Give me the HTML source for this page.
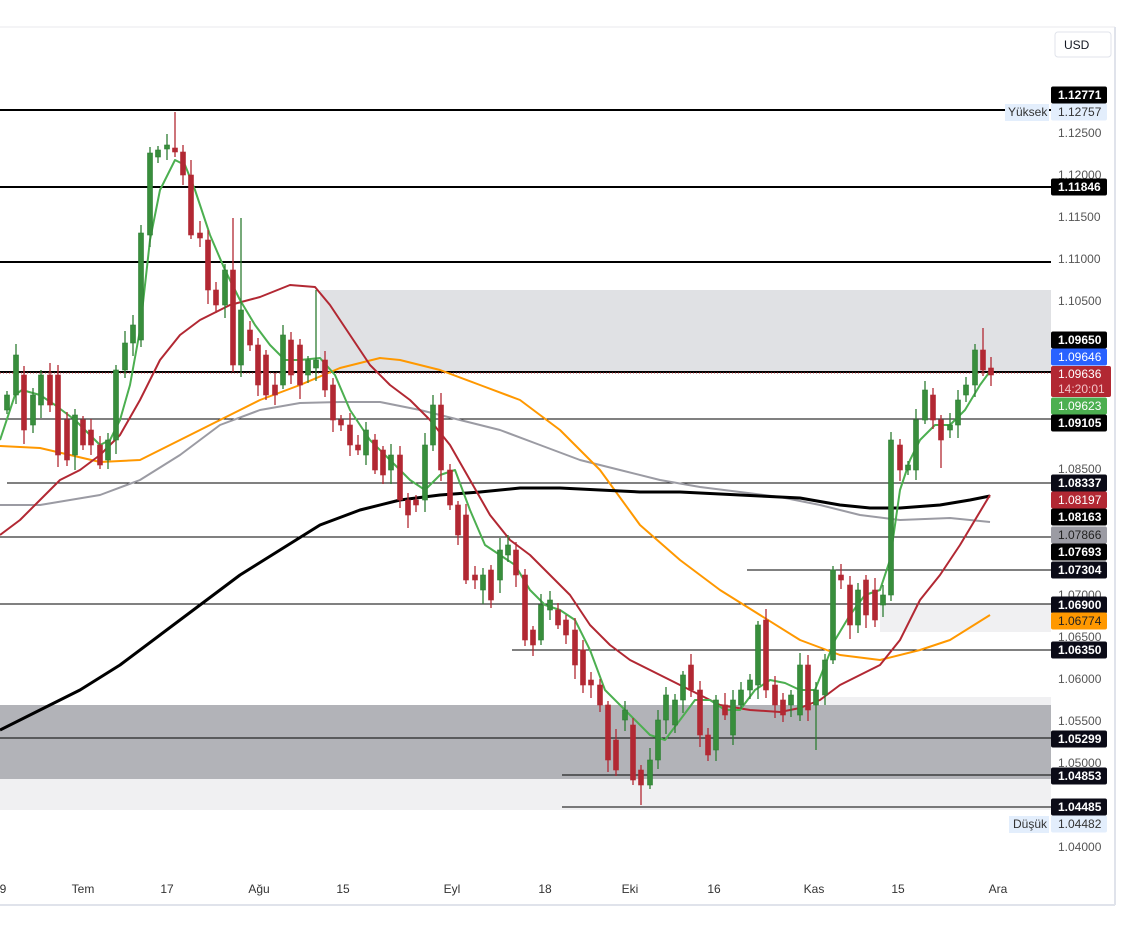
<!DOCTYPE html>
<html><head><meta charset="utf-8"><style>
body{margin:0;background:#fff;width:1125px;height:939px;overflow:hidden;font-family:"Liberation Sans",sans-serif}
svg{display:block}
</style></head><body>
<svg id="s" width="1125" height="939" xmlns="http://www.w3.org/2000/svg" font-family="Liberation Sans, sans-serif">
<rect x="0" y="0" width="1125" height="939" fill="#fff"/>
<line x1="0" y1="27" x2="1115" y2="27" stroke="#e8e9ec"/>
<line x1="1115" y1="27" x2="1115" y2="905" stroke="#e0e3eb" stroke-width="2"/>
<line x1="0" y1="905" x2="1115" y2="905" stroke="#e0e3eb" stroke-width="2"/>
<!-- zones -->
<rect x="320" y="290" width="731" height="82" fill="#e0e1e4"/>
<rect x="0" y="779" width="1051" height="31" fill="#f0f0f2"/>
<rect x="820" y="697" width="231" height="8" fill="#f0f0f2"/>
<rect x="0" y="705" width="1051" height="74" fill="#b2b3b8"/>
<rect x="880" y="604" width="171" height="28" fill="#f0f0f2"/>
<g id="hl" stroke="#000">
<line x1="0" y1="110" x2="1051" y2="110" stroke-width="2"/>
<line x1="0" y1="187" x2="1051" y2="187" stroke-width="2"/>
<line x1="0" y1="262" x2="1051" y2="262" stroke-width="2"/>
<line x1="0" y1="372" x2="1051" y2="372" stroke-width="2"/>
<line x1="0" y1="419" x2="1051" y2="419"/>
<line x1="7" y1="483" x2="1051" y2="483"/>
<line x1="0" y1="537" x2="1051" y2="537"/>
<line x1="747" y1="570" x2="1051" y2="570"/>
<line x1="0" y1="604" x2="1051" y2="604"/>
<line x1="512" y1="650" x2="1051" y2="650"/>
<line x1="0" y1="738" x2="1051" y2="738"/>
<line x1="562" y1="775" x2="1051" y2="775"/>
<line x1="562" y1="807" x2="1051" y2="807"/>
</g>
<line x1="0" y1="373" x2="1051" y2="373" stroke="#c0303a" stroke-dasharray="1 2"/>
<g id="ma" fill="none" stroke-linejoin="round"></g>
<g id="cd"></g>
<g id="ax" font-size="12"></g>
<rect x="1055" y="32" width="56" height="25" rx="3" fill="#fff" stroke="#e0e3eb"/>
<text x="1064" y="49" font-size="12" fill="#131722">USD</text>
</svg>
<script>
var NS="http://www.w3.org/2000/svg";
function el(p,t,a,txt){var e=document.createElementNS(NS,t);for(var k in a)e.setAttribute(k,a[k]);if(txt!=null)e.textContent=txt;p.appendChild(e);return e;}
var ma=document.getElementById('ma'),cd=document.getElementById('cd'),ax=document.getElementById('ax');
function line(pts,col,w){el(ma,'polyline',{points:pts.map(p=>p.join(',')).join(' '),stroke:col,'stroke-width':w});}
line([[0,505],[40,505],[100,495],[140,480],[180,455],[220,425],[260,410],[300,403],[340,402],[380,402],[420,410],[460,420],[500,430],[540,445],[580,460],[620,470],[660,480],[700,487],[740,492],[780,497],[820,505],[860,515],[900,520],[950,518],[990,522]],'#9b9ba3',2);
line([[0,446],[40,448],[100,462],[140,460],[180,440],[220,420],[260,400],[300,385],[340,368],[380,358],[400,360],[440,370],[480,385],[520,400],[560,430],[600,470],[640,525],[680,560],[720,590],[760,615],[800,640],[840,655],[880,660],[920,650],[950,640],[990,615]],'#ff9800',2);
line([[0,730],[40,710],[80,690],[120,665],[160,635],[200,605],[240,575],[280,550],[320,525],[360,510],[400,500],[440,495],[480,492],[520,488],[560,488],[600,490],[640,492],[680,492],[720,494],[760,496],[800,498],[840,505],[870,508],[900,508],[940,505],[970,500],[990,496]],'#000',3);
line([[0,535],[20,520],[40,500],[60,480],[80,470],[100,455],[120,435],[140,400],[160,360],[180,335],[200,320],[230,305],[260,297],[290,285],[315,287],[330,305],[350,335],[370,365],[390,385],[410,400],[430,420],[450,445],[470,480],[490,515],[510,540],[530,555],[550,575],[570,595],[590,625],[610,645],[630,660],[660,675],[690,690],[720,705],[750,710],[780,712],[800,708],[820,700],[840,685],[860,675],[880,665],[900,640],[920,600],[940,575],[960,545],[975,520],[990,495]],'#b22833',2);
line([[0,440],[15,395],[22,390],[40,395],[55,405],[75,420],[100,445],[110,440],[120,420],[130,385],[140,330],[150,240],[160,190],[175,160],[185,165],[195,190],[210,235],[225,270],[240,300],[255,325],[270,345],[285,360],[300,360],[320,358],[335,375],[350,410],[370,440],[390,460],[410,480],[425,490],[440,475],[455,470],[470,510],[485,545],[500,555],[515,565],[530,590],[545,605],[560,610],[575,620],[590,650],[605,690],[620,705],[635,720],[650,735],[665,740],[680,720],[695,700],[710,700],[725,710],[740,710],[755,690],[770,680],[785,683],[800,690],[815,690],[825,665],[835,640],[850,615],[865,595],[880,590],[890,560],[900,490],[910,460],[920,440],[935,425],[950,425],[965,410],[980,385],[991,370]],'#4caf50',2);
// candles: x, y1, y2, dir(g/r)
var C=[[7,395,410,'g'],[16,355,395,'g'],[24,375,430,'r'],[33,395,425,'g'],[41,375,405,'g'],[50,375,405,'r'],[58,375,455,'r'],[67,420,460,'r'],[75,415,455,'g'],[83,420,445,'r'],[91,430,445,'r'],[100,445,465,'r'],[108,440,460,'g'],[116,370,440,'g'],[125,343,370,'g'],[133,325,343,'g'],[141,233,340,'g'],[150,153,235,'g'],[158,150,157,'g'],[167,145,149,'g'],[175,148,152,'r'],[183,152,175,'r'],[191,175,235,'r'],[200,233,238,'r'],[208,240,290,'r'],[216,290,305,'r'],[225,270,305,'g'],[233,270,365,'r'],[241,310,365,'g'],[250,330,345,'r'],[258,345,385,'r'],[266,355,395,'r'],[275,385,395,'r'],[283,335,385,'g'],[291,340,375,'r'],[300,345,385,'r'],[308,360,375,'g'],[316,360,368,'g'],[325,360,390,'r'],[333,385,420,'r'],[341,420,425,'r'],[350,425,445,'r'],[358,445,450,'r'],[366,430,455,'g'],[375,440,470,'r'],[383,450,475,'r'],[391,455,470,'g'],[400,455,500,'r'],[408,500,515,'r'],[416,500,505,'r'],[425,445,500,'g'],[433,405,445,'g'],[441,405,470,'r'],[450,470,505,'r'],[458,505,535,'r'],[466,515,580,'r'],[475,575,580,'r'],[483,575,590,'g'],[491,570,600,'r'],[500,550,580,'g'],[508,545,555,'g'],[516,550,575,'r'],[525,575,640,'r'],[533,630,645,'r'],[541,605,640,'g'],[550,600,610,'g'],[558,610,625,'r'],[566,620,635,'r'],[575,630,665,'r'],[583,650,685,'r'],[591,680,685,'r'],[600,685,705,'r'],[608,705,760,'r'],[616,740,770,'r'],[625,710,720,'g'],[633,725,780,'r'],[641,770,785,'r'],[650,760,785,'g'],[658,720,760,'g'],[666,695,720,'g'],[675,700,725,'g'],[683,675,700,'g'],[691,665,690,'r'],[700,690,735,'r'],[708,735,755,'r'],[716,700,750,'g'],[725,705,715,'r'],[733,700,735,'g'],[741,690,705,'g'],[750,680,690,'g'],[758,625,685,'g'],[766,620,690,'r'],[775,685,705,'r'],[783,700,715,'r'],[791,695,705,'g'],[800,665,715,'g'],[808,665,710,'r'],[816,690,705,'g'],[825,660,695,'g'],[833,570,660,'g'],[841,575,580,'r'],[850,585,625,'r'],[858,590,625,'g'],[866,580,615,'r'],[875,590,620,'r'],[883,595,605,'g'],[891,440,595,'g'],[900,445,470,'r'],[908,465,470,'g'],[916,420,470,'g'],[925,390,420,'g'],[933,395,420,'r'],[941,420,440,'r'],[950,425,430,'g'],[958,400,425,'g'],[966,385,395,'g'],[975,350,385,'g'],[983,350,370,'r'],[991,368,375,'r']];
var W={177:112,316:290,441:393,641:805,816:750,983:328,941:468,237:218,75:470,191:160};
C.forEach(function(c,i){var x=c[0],a=c[1],b=c[2];var col=c[3]=='g'?'#2e7d32':'#b22833';var fill=c[3]=='g'?'#388e3c':'#b22833';
var hi=a-4-((i*7)%9),lo=b+4+((i*5)%11);
for(var k in W){if(Math.abs(k-x)<=4){var v=W[k];if(v<a)hi=v;else lo=v;}}
el(cd,'line',{x1:x,y1:hi,x2:x,y2:lo,stroke:col,'stroke-width':1.3});
el(cd,'rect',{x:x-2.5,y:a,width:5,height:Math.max(1.5,b-a),fill:fill,stroke:col,'stroke-width':0.6});});
// axis labels
[[133,'1.12500'],[175,'1.12000'],[217,'1.11500'],[259,'1.11000'],[301,'1.10500'],[469,'1.08500'],[595,'1.07000'],[637,'1.06500'],[679,'1.06000'],[721,'1.05500'],[763,'1.05000'],[847,'1.04000']].forEach(function(l){el(ax,'text',{x:1058,y:l[0]+4,fill:'#555'},l[1]);});
function box(y,txt,bg,fg,h){h=h||17;el(ax,'rect',{x:1051,y:y-h/2,width:56,height:h,rx:2,fill:bg});el(ax,'text',{x:1058,y:y+4,fill:fg,'font-weight':bg=='#000'||bg=='#0b0b17'?'bold':'normal'},txt);}
box(95,'1.12771','#000','#fff');
box(112,'1.12757','#e3eefc','#333');
el(ax,'rect',{x:1005,y:104,width:44,height:17,fill:'#e3eefc'});el(ax,'text',{x:1008,y:116,fill:'#333'},'Yüksek');
box(187,'1.11846','#000','#fff');
box(340,'1.09650','#000','#fff');
box(357,'1.09646','#2962ff','#fff');
el(ax,'rect',{x:1051,y:366,width:60,height:31,rx:2,fill:'#b22833'});
el(ax,'text',{x:1058,y:378,fill:'#fff'},'1.09636');el(ax,'text',{x:1058,y:393,fill:'#f2c4c8'},'14:20:01');
box(406,'1.09623','#4caf50','#fff');
box(423,'1.09105','#000','#fff');
box(483,'1.08337','#0b0b17','#fff');
box(500,'1.08197','#b22833','#fff');
box(517,'1.08163','#000','#fff');
box(535,'1.07866','#9b9ba3','#222');
box(552,'1.07693','#000','#fff');
box(570,'1.07304','#0b0b17','#fff');
box(605,'1.06900','#0b0b17','#fff');
box(621,'1.06774','#ff9800','#222');
box(650,'1.06350','#0b0b17','#fff');
box(739,'1.05299','#0b0b17','#fff');
box(776,'1.04853','#0b0b17','#fff');
box(807,'1.04485','#0b0b17','#fff');
box(824,'1.04482','#e3eefc','#333');
el(ax,'rect',{x:1009,y:816,width:40,height:17,fill:'#e3eefc'});el(ax,'text',{x:1013,y:828,fill:'#333'},'Düşük');
[[3,'9'],[83,'Tem'],[167,'17'],[259,'Ağu'],[343,'15'],[452,'Eyl'],[545,'18'],[630,'Eki'],[714,'16'],[814,'Kas'],[898,'15'],[998,'Ara']].forEach(function(l){el(ax,'text',{x:l[0],y:893,'text-anchor':'middle',fill:'#333'},l[1]);});
</script>
</body></html>
